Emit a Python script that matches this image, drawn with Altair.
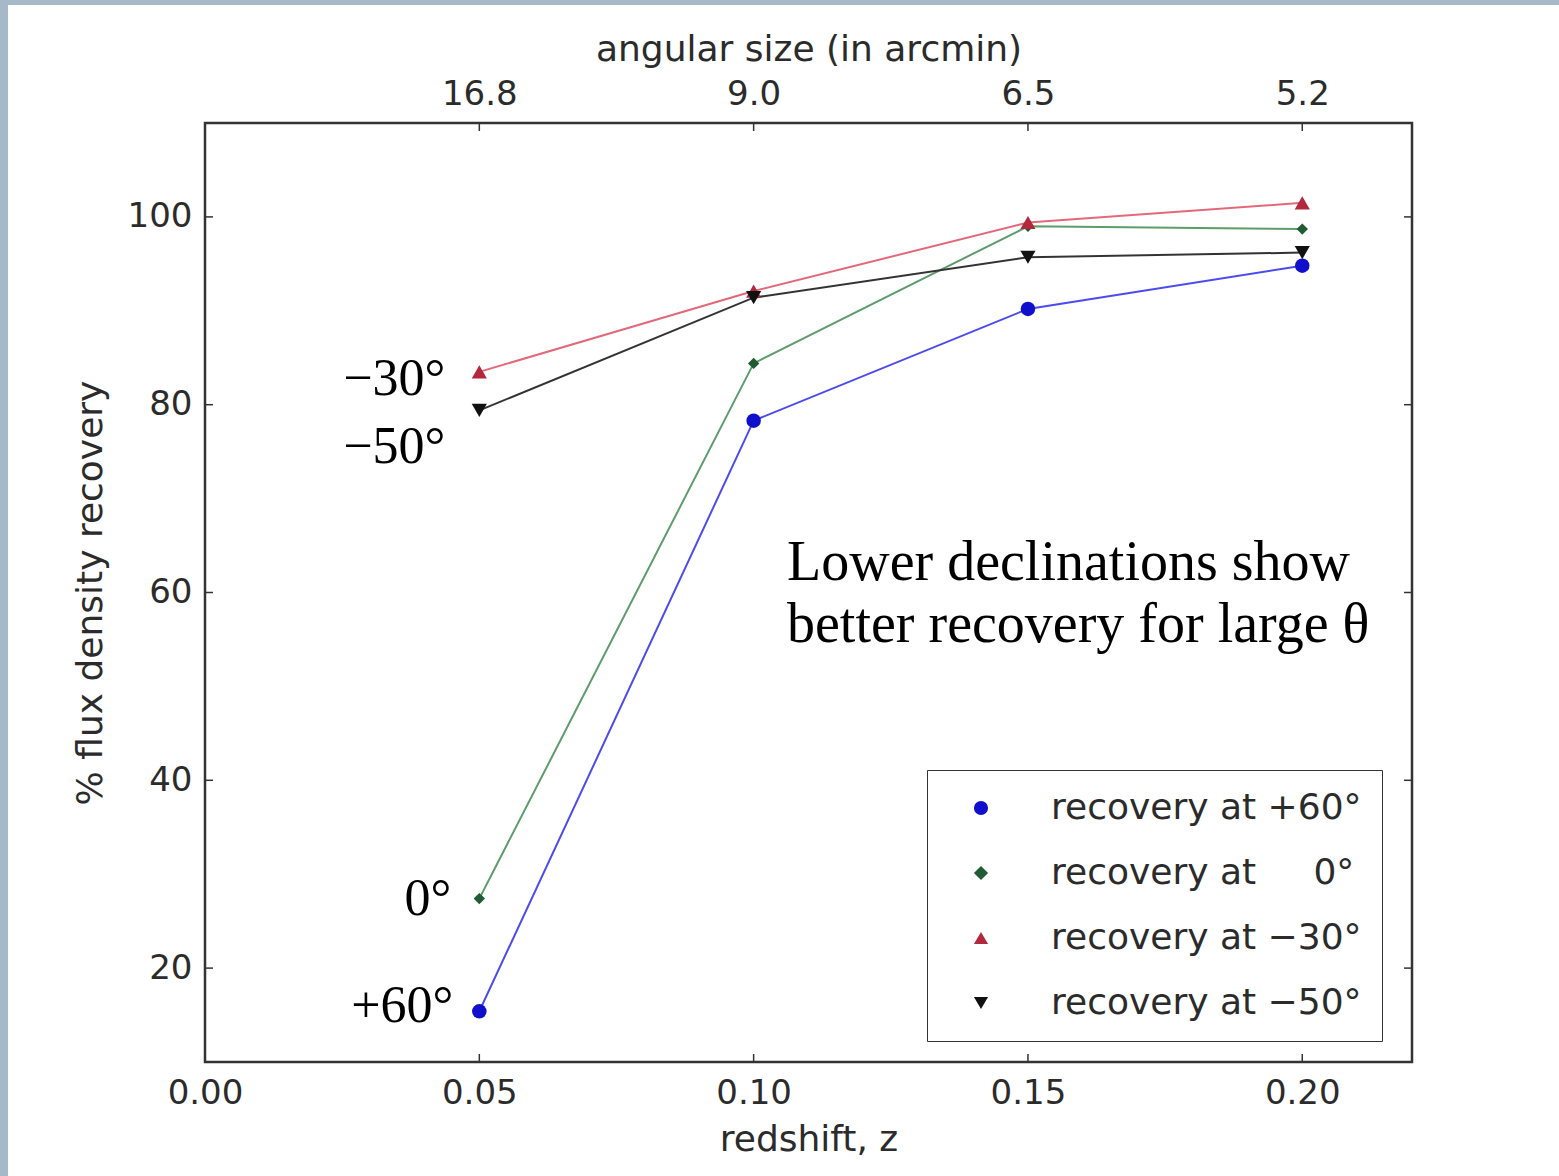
import altair as alt
import pandas as pd

# ---- data -------------------------------------------------------------
redshift = [0.05, 0.10, 0.15, 0.20]
series_names = ["recovery at +60°", "recovery at \u2007\u20070°",
                "recovery at −30°", "recovery at −50°"]
rec_p60 = [15.4, 78.3, 90.2, 94.8]
rec_0 = [27.4, 84.4, 99.0, 98.7]
rec_m30 = [83.5, 92.1, 99.4, 101.5]
rec_m50 = [79.4, 91.4, 95.7, 96.2]
angular_size = ["16.8", "9.0", "6.5", "5.2"]
x_ticks = [0.00, 0.05, 0.10, 0.15, 0.20]
y_ticks = [20, 40, 60, 80, 100]
dec_labels = ["+60°", "0°", "−30°", "−50°"]
note_lines = ["Lower declinations show", "better recovery for large θ"]

all_series = [rec_p60, rec_0, rec_m30, rec_m50]
rows = []
for name, vals in zip(series_names, all_series):
    for z, v in zip(redshift, vals):
        rows.append({"series": name, "z": z, "rec": v})
df = pd.DataFrame(rows)

# ---- styling ----------------------------------------------------------
W, H = 1207, 939
AX_FONT = "DejaVu Sans"
TXT = "#2b2b2b"
marker_colors = ["#1010cc", "#1f5c33", "#b3283d", "#111111"]
line_colors = ["#4b4bf0", "#5d9c6b", "#e3697a", "#333333"]
shapes = ["circle", "diamond", "triangle-up", "triangle-down"]
marker_sizes = [210, 130, 230, 230]

x_scale = alt.Scale(domain=[0, 0.22], nice=False, zero=False)
y_scale = alt.Scale(domain=[10, 110], nice=False, zero=False)

common_axis = dict(
    grid=False, domain=False, tickSize=0, labelFlush=False,
    labelFont=AX_FONT, labelFontSize=34, labelColor=TXT,
    titleFont=AX_FONT, titleFontSize=36, titleFontWeight="normal", titleColor=TXT,
)

bottom_axis = alt.Axis(values=x_ticks, format=".2f", labelPadding=14,
                       titlePadding=12, **common_axis)
left_axis = alt.Axis(values=y_ticks, format="d", labelPadding=13,
                     titlePadding=18, **common_axis)
top_axis = alt.Axis(
    orient="top", values=redshift,
    labelExpr="[" + ",".join(f"'{s}'" for s in angular_size) + "][indexof(["
    + ",".join(str(z) for z in redshift) + "], datum.value)]",
    labelPadding=12, titlePadding=9, title="angular size (in arcmin)",
    **common_axis,
)

legend = alt.Legend(
    title=None, orient="none", legendX=722, legendY=647,
    strokeColor="#333333", fillColor="white", padding=20,
    labelFont=AX_FONT, labelFontSize=36, labelColor=TXT, labelLimit=600,
    symbolSize=200, symbolStrokeWidth=0, symbolOffset=16,
    labelOffset=52, rowPadding=29,
)

base = alt.Chart(df)

# one connecting line per declination, each in its own colour
line_layers = []
for i, (name, col) in enumerate(zip(series_names, line_colors)):
    x_enc = (alt.X("z:Q", scale=x_scale, axis=bottom_axis, title="redshift, z")
             if i == 0 else alt.X("z:Q", scale=x_scale, axis=None))
    y_enc = (alt.Y("rec:Q", scale=y_scale, axis=left_axis, title="% flux density recovery")
             if i == 0 else alt.Y("rec:Q", scale=y_scale, axis=None))
    line_layers.append(
        base.transform_filter(alt.datum.series == name)
        .mark_line(strokeWidth=2, color=col)
        .encode(x=x_enc, y=y_enc)
    )

size_expr = ("[" + ",".join(str(s) for s in marker_sizes) + "][indexof(["
             + ",".join(f"'{n}'" for n in series_names) + "], datum.series)]")

points = base.transform_calculate(msize=size_expr).mark_point(
    filled=True, opacity=1, strokeWidth=0).encode(
    x=alt.X("z:Q", scale=x_scale, axis=None),
    y=alt.Y("rec:Q", scale=y_scale, axis=None),
    color=alt.Color("series:N", scale=alt.Scale(domain=series_names, range=marker_colors),
                    legend=legend),
    shape=alt.Shape("series:N", scale=alt.Scale(domain=series_names, range=shapes),
                    legend=legend),
    size=alt.Size("msize:Q", scale=None),
)

# inside tick marks on all four sides
tick_color = "#333333"
top_ticks = alt.Chart(pd.DataFrame({"z": redshift})).mark_rule(
    color=tick_color, strokeWidth=1.5).encode(
    x=alt.X("z:Q", scale=x_scale, axis=top_axis),
    y=alt.value(0), y2=alt.value(8),
)
bottom_ticks = alt.Chart(pd.DataFrame({"z": x_ticks})).mark_rule(
    color=tick_color, strokeWidth=1.5).encode(
    x=alt.X("z:Q", scale=x_scale, axis=None),
    y=alt.value(H), y2=alt.value(H - 8),
)
ydf = pd.DataFrame({"rec": y_ticks})
left_ticks = alt.Chart(ydf).mark_rule(color=tick_color, strokeWidth=1.5).encode(
    y=alt.Y("rec:Q", scale=y_scale, axis=None),
    x=alt.value(0), x2=alt.value(8),
)
right_ticks = alt.Chart(ydf).mark_rule(color=tick_color, strokeWidth=1.5).encode(
    y=alt.Y("rec:Q", scale=y_scale, axis=None),
    x=alt.value(W - 8), x2=alt.value(W),
)

# declination labels next to the first point of each series
label_offsets = [(-26, 11), (-28, 16), (-34, 23), (-34, 53)]
dec_layers = []
for lab, vals, (dx, dy) in zip(dec_labels, all_series, label_offsets):
    d = pd.DataFrame({"z": [redshift[0]], "rec": [vals[0]], "label": [lab]})
    dec_layers.append(
        alt.Chart(d).mark_text(align="right", baseline="alphabetic", dx=dx, dy=dy,
                               font="Liberation Serif", fontSize=52, color="black").encode(
            x=alt.X("z:Q", scale=x_scale, axis=None),
            y=alt.Y("rec:Q", scale=y_scale, axis=None),
            text="label:N")
    )

dummy = pd.DataFrame({"k": [0]})
note = alt.Chart(dummy).mark_text(
    align="left", baseline="alphabetic", font="Liberation Serif", fontSize=56,
    lineHeight=62, color="black", text=note_lines,
).encode(x=alt.value(582), y=alt.value(457))

# slide-coloured strips along the top and left page edges
frame_fill = "#a5b9c8"
strip_top = alt.Chart(dummy).mark_rect(color=frame_fill).encode(
    x=alt.value(-205), x2=alt.value(1354), y=alt.value(-123), y2=alt.value(-118))
strip_left = alt.Chart(dummy).mark_rect(color=frame_fill).encode(
    x=alt.value(-205), x2=alt.value(-197), y=alt.value(-123), y2=alt.value(1053))

chart = alt.layer(
    strip_top, strip_left, *line_layers, points, top_ticks, bottom_ticks, left_ticks,
    right_ticks, *dec_layers, note,
).resolve_axis(x="independent", y="independent").properties(
    width=W, height=H,
    padding={"left": 205, "top": 123, "right": 147, "bottom": 114},
    autosize=alt.AutoSizeParams(type="none"),
    background="white",
).configure_view(stroke="#333333", strokeWidth=2.5)

chart.save("out.html", embed_options={"renderer": "svg", "actions": False})
